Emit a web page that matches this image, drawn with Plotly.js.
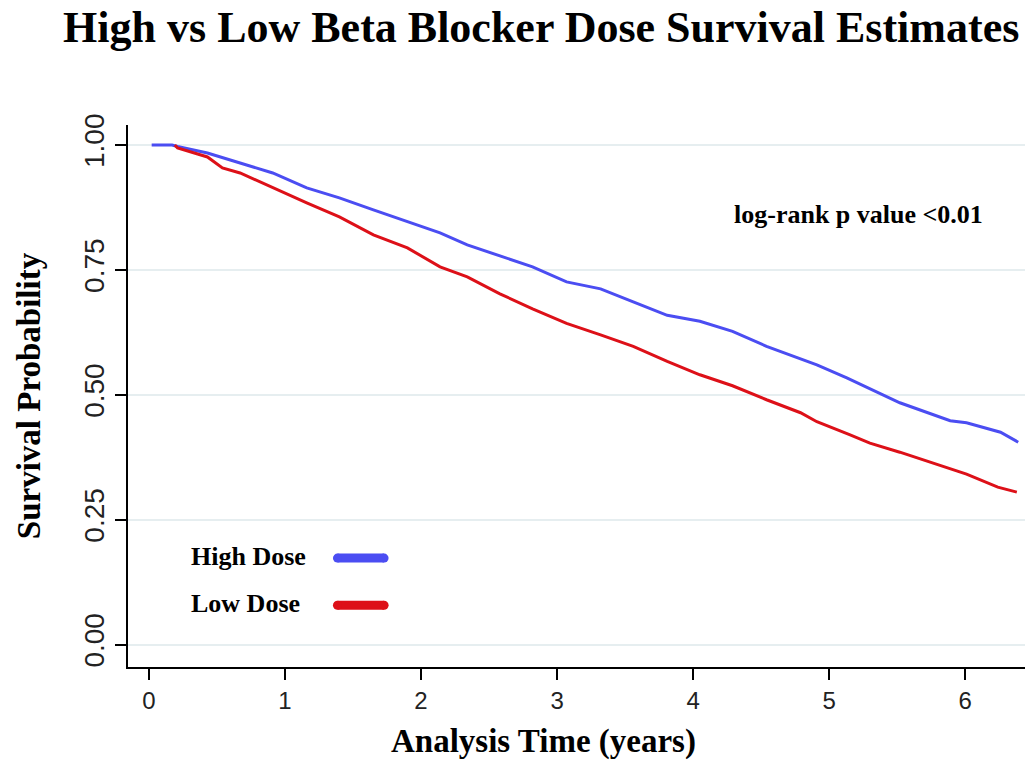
<!DOCTYPE html>
<html>
<head>
<meta charset="utf-8">
<script src="https://cdn.plot.ly/plotly-3.0.1.min.js"></script>
<style>html,body{margin:0;padding:0;background:#fff;}#chart{width:1025px;height:762px;}</style>
</head>
<body>
<div id="chart"></div>
<script>
// High dose survival estimates (time in years, survival probability)
const highTime = [0.02, 0.17, 0.21, 0.43, 0.67, 0.91, 1.16, 1.40, 1.65, 1.90, 2.14, 2.34, 2.58, 2.82, 3.07, 3.32, 3.56, 3.81, 4.05, 4.29, 4.54, 4.79, 4.91, 5.13, 5.52, 5.89, 6.01, 6.26, 6.39];
const highSurv = [1.000, 1.000, 0.997, 0.984, 0.964, 0.944, 0.914, 0.894, 0.870, 0.846, 0.824, 0.800, 0.778, 0.756, 0.726, 0.712, 0.686, 0.659, 0.647, 0.627, 0.597, 0.573, 0.560, 0.534, 0.484, 0.448, 0.444, 0.425, 0.405];
// Low dose survival estimates
const lowTime = [0.19, 0.21, 0.43, 0.54, 0.67, 0.91, 1.16, 1.40, 1.65, 1.90, 2.14, 2.34, 2.58, 2.82, 3.07, 3.32, 3.56, 3.81, 4.05, 4.29, 4.54, 4.79, 4.91, 5.15, 5.30, 5.52, 5.76, 6.01, 6.24, 6.38];
const lowSurv = [1.000, 0.994, 0.976, 0.954, 0.944, 0.914, 0.884, 0.856, 0.820, 0.794, 0.756, 0.736, 0.702, 0.672, 0.643, 0.620, 0.597, 0.567, 0.540, 0.518, 0.490, 0.464, 0.446, 0.420, 0.403, 0.385, 0.363, 0.341, 0.315, 0.305];

const seriesNames = ["High Dose", "Low Dose"];
const xTicks = [0, 1, 2, 3, 4, 5, 6];
const xTickLabels = ["0", "1", "2", "3", "4", "5", "6"];
const yTicks = [0, 0.25, 0.5, 0.75, 1.0];
const yTickLabels = ["0.00", "0.25", "0.50", "0.75", "1.00"];

const blue = "#4b4df2";
const red = "#dd1018";
const serif = "Liberation Serif, Times New Roman, serif";
const sans = "Liberation Sans, Arial, sans-serif";

const traces = [
  {x: highTime, y: highSurv, name: seriesNames[0], type: "scatter", mode: "lines",
   line: {color: blue, width: 3}},
  {x: lowTime, y: lowSurv, name: seriesNames[1], type: "scatter", mode: "lines",
   line: {color: red, width: 3}}
];

// legend key helper (line with round caps, in paper coords)
function key(color, y) {
  const x0 = 0.2335, x1 = 0.2855;
  return [
    {type: "line", xref: "paper", yref: "paper", x0: x0, x1: x1, y0: y, y1: y, line: {color: color, width: 9}},
    {type: "circle", xref: "paper", yref: "paper", xsizemode: "pixel", ysizemode: "pixel",
     xanchor: x0, yanchor: y, x0: -4.5, x1: 4.5, y0: -4.5, y1: 4.5, fillcolor: color, line: {width: 0}},
    {type: "circle", xref: "paper", yref: "paper", xsizemode: "pixel", ysizemode: "pixel",
     xanchor: x1, yanchor: y, x0: -4.5, x1: 4.5, y0: -4.5, y1: 4.5, fillcolor: color, line: {width: 0}}
  ];
}

const layout = {
  width: 1025, height: 762,
  paper_bgcolor: "#fff", plot_bgcolor: "#fff",
  margin: {l: 128, r: 0, t: 125, b: 95},
  showlegend: false,
  title: {text: "<b>High vs Low Beta Blocker Dose Survival Estimates</b>",
          font: {family: serif, size: 44, color: "#000"},
          x: 0.528, xanchor: "center", y: 0.965, yanchor: "middle"},
  xaxis: {
    range: [-0.154, 6.44], tickvals: xTicks, ticktext: xTickLabels,
    showgrid: false, zeroline: false,
    showline: true, linecolor: "#000", linewidth: 2,
    ticks: "outside", ticklen: 11, tickwidth: 2, tickcolor: "#000",
    tickfont: {family: sans, size: 24, color: "#222"}
  },
  yaxis: {
    range: [-0.045, 1.04], tickvals: yTicks, ticktext: yTickLabels,
    showgrid: true, gridcolor: "#e6eef0", gridwidth: 2, zeroline: false,
    showline: true, linecolor: "#000", linewidth: 2,
    ticks: "outside", ticklen: 11, tickwidth: 2, tickcolor: "#000",
    tickangle: -90,
    tickfont: {family: sans, size: 28, color: "#222"},
    title: {text: "<b>Survival Probability</b>", font: {family: serif, size: 33, color: "#000"}, standoff: 28}
  },
  annotations: [
    {xref: "paper", yref: "paper", x: 0.463, y: -0.138, xanchor: "center", yanchor: "middle",
     text: "<b>Analysis Time (years)</b>", showarrow: false,
     font: {family: serif, size: 33, color: "#000"}},
    {xref: "paper", yref: "paper", x: 0.814, y: 0.834, xanchor: "center", yanchor: "middle",
     text: "<b>log-rank p value <0.01</b>", showarrow: false,
     font: {family: serif, size: 26, color: "#000"}},
    {xref: "paper", yref: "paper", x: 0.068, y: 0.203, xanchor: "left", yanchor: "middle",
     text: "<b>" + seriesNames[0] + "</b>", showarrow: false,
     font: {family: serif, size: 26, color: "#000"}},
    {xref: "paper", yref: "paper", x: 0.068, y: 0.118, xanchor: "left", yanchor: "middle",
     text: "<b>" + seriesNames[1] + "</b>", showarrow: false,
     font: {family: serif, size: 26, color: "#000"}}
  ],
  shapes: key(blue, 0.201).concat(key(red, 0.114))
};

Plotly.newPlot("chart", traces, layout, {displayModeBar: false, staticPlot: true});
</script>
</body>
</html>
